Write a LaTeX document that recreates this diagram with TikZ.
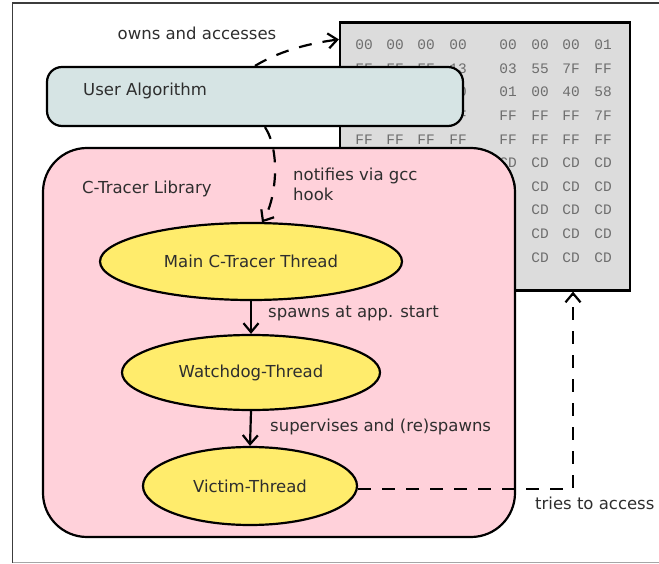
\documentclass[tikz,border=0pt]{standalone}
\usepackage{fontspec}
\setmainfont{DejaVu Sans}
\newfontfamily\hexfont{Liberation Mono}
\usetikzlibrary{shapes.geometric,arrows.meta,calc}

\definecolor{txtcol}{HTML}{2E2E2E}
\definecolor{hexcol}{HTML}{6E6E6E}
\definecolor{hexfill}{HTML}{DCDCDC}
\definecolor{userfill}{HTML}{D6E4E4}
\definecolor{libfill}{HTML}{FFD1DA}
\definecolor{threadfill}{HTML}{FFEC6C}
\definecolor{framecol}{HTML}{3C3C3C}

\begin{document}
\begin{tikzpicture}[x=1pt,y=-1pt,
  lbl/.style={text=txtcol, font=\fontsize{16.5}{20}\selectfont, inner sep=0pt},
  hexval/.style={text=hexcol, font=\hexfont\fontsize{14.5}{16}\selectfont, inner sep=0pt},
  box/.style={draw=black, line width=2.2pt, inner sep=0pt},
  thread/.style={ellipse, draw=black, line width=2.2pt, fill=threadfill,
    inner sep=0pt, text=txtcol, font=\fontsize{16.5}{20}\selectfont},
  flow/.style={line width=2.2pt, -{Straight Barb[length=9pt,width=15pt]}},
  dashflow/.style={flow, dash pattern=on 13pt off 11pt},
]
\useasboundingbox (0,0) rectangle (659,564);

% outer frame (runs off the right edge)
\draw[framecol, line width=1.6pt] (690,3) -- (12.5,3) -- (12.5,562.5);
\draw[gray!70, line width=1.2pt] (12.5,562.5) -- (690,562.5);

% memory dump; the left half of the lower rows sits behind the library box
\node[box, fill=hexfill, minimum width=290pt, minimum height=268pt] (hex) at (485,156.5) {};
\foreach \row [count=\r from 0] in {
  {00,00,00,00,00,00,00,01},
  {FF,FF,FF,13,03,55,7F,FF},
  {00,00,00,00,01,00,40,58},
  {FF,FF,FF,FF,FF,FF,FF,7F},
  {FF,FF,FF,FF,FF,FF,FF,FF},
  {CD,CD,CD,CD,CD,CD,CD,CD},
  {CD,CD,CD,CD,CD,CD,CD,CD},
  {CD,CD,CD,CD,CD,CD,CD,CD},
  {CD,CD,CD,CD,CD,CD,CD,CD},
  {CD,CD,CD,CD,CD,CD,CD,CD}} {
  \foreach \v [count=\c from 0] in \row {
    \pgfmathsetmacro\hx{{364,395,426,458,508,540,571,603}[\c]}
    \pgfmathtruncatemacro\hidden{(\r>4)&&(\c<4)}
    \ifnum\hidden=0
      \node[hexval] (hx-\r-\c) at (\hx, 45+23.6*\r) {\v};
    \fi
  }
}

% user algorithm
\node[box, fill=userfill, rounded corners=15pt, minimum width=416pt, minimum height=59pt] (ua) at (255,96.5) {};
\node[lbl, anchor=west] (ualbl) at (83,91) {User Algorithm};

% library container
\node[box, fill=libfill, rounded corners=44pt, minimum width=472pt, minimum height=389pt] (lib) at (279,342.5) {};
\node[lbl, anchor=west] (liblbl) at (82,189) {C-Tracer Library};

% threads
\node[thread, minimum width=302pt, minimum height=77pt] (main) at (251,261.5) {Main C-Tracer Thread};
\node[thread, minimum width=258pt, minimum height=75pt] (watch) at (251,372.5) {Watchdog-Thread};
\node[thread, minimum width=214pt, minimum height=78pt] (victim) at (250,486) {Victim-Thread};

% thread relations
\draw[flow] (main.south) -- (watch.north);
\node[lbl, anchor=west] (spawnlbl) at (268,313) {spawns at app. start};
\draw[flow] (watch.south) -- (victim.north);
\node[lbl, anchor=west] (suplbl) at (270,427) {supervises and (re)spawns};

% access from the user algorithm
\coordinate (hexin) at ($(hex.north west)+(0,18)$);
\draw[dashflow] (ua.north) .. controls (278,52) and (305,44) .. (hexin);
\node[lbl] (ownlbl) at (197,33) {owns and accesses};

% gcc hook notification
\coordinate (mainin) at ($(main.north)+(11,0.5)$);
\draw[dashflow] ($(ua.south)+(10,0)$) .. controls (281,152) and (276,200) .. (mainin);
\node[lbl, anchor=west, align=left] (hooklbl) at (293,184) {notifies via gcc\\hook};

% victim access attempt
\coordinate (turn) at (573,489);
\draw[dashflow] ($(victim.east)+(0,3)$) -- (turn) -- (turn |- hex.south);
\node[lbl, anchor=west] (trylbl) at (535,503) {tries to access};

\end{tikzpicture}
\end{document}
